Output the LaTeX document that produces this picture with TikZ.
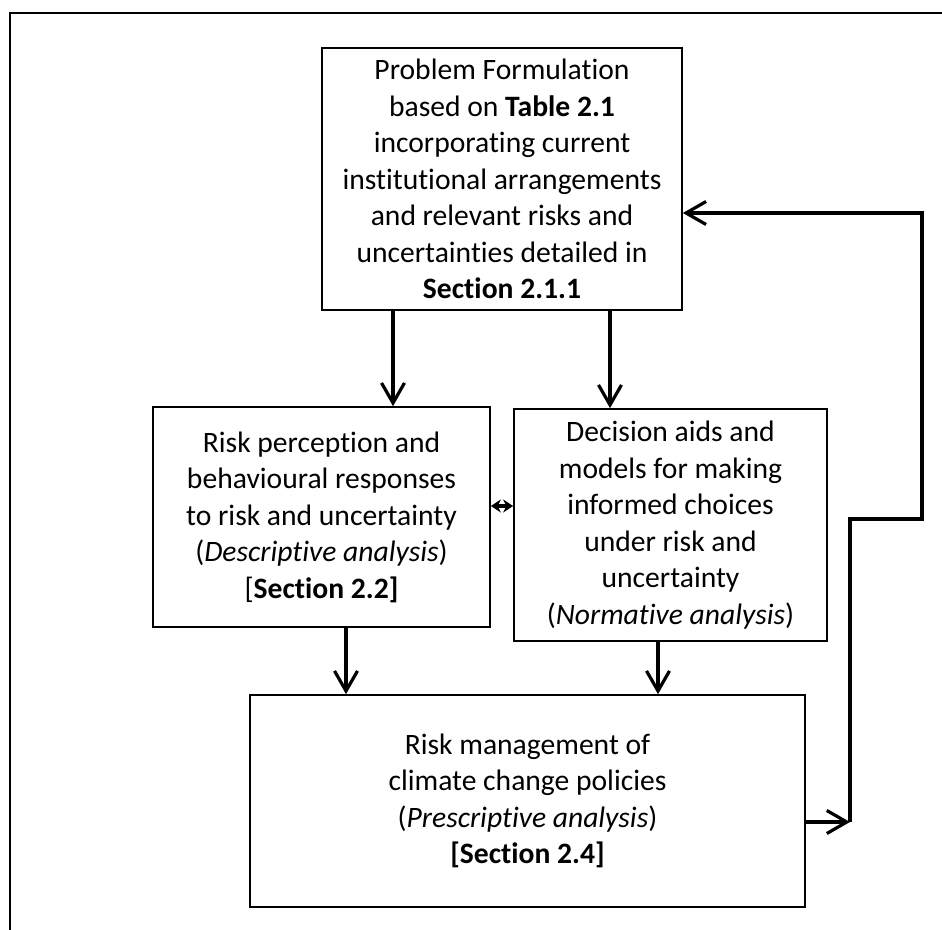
\documentclass[tikz,border=0pt]{standalone}
\usepackage{fontspec}
\setmainfont{Carlito}[Ligatures=NoCommon]
\usetikzlibrary{arrows.meta}

\begin{document}
\begin{tikzpicture}[x=0.5pt, y=-0.5pt, font=\fontsize{14.8pt}{18.25pt}\selectfont]
    % Define styles
    \tikzstyle{stage} = [rectangle, draw=black, line width=0.85pt, align=center, inner sep=0pt]
    \tikzstyle{arrow} = [line width=1.6pt, -{Straight Barb[length=10pt, width=11.5pt]}]
    \tikzstyle{link} = [line width=1.6pt, {Stealth[length=5pt, width=6.5pt]}-{Stealth[length=5pt, width=6.5pt]}]

    % Canvas and outer frame
    \useasboundingbox (0,0) rectangle (942,930);
    \draw [line width=1.3pt] (10,930) -- (10,13) -- (942,13);

    % Nodes
    \node [stage, minimum width=180pt, minimum height=131pt] (formulation) at (502,179)
        {Problem Formulation\\based on \textbf{Table 2.1}\\incorporating current\\institutional arrangements\\and relevant risks and\\uncertainties detailed in\\\textbf{Section 2.1.1}};
    \node [stage, minimum width=168.5pt, minimum height=110pt] (perception) at (321.5,517)
        {Risk perception and\\behavioural responses\\to risk and uncertainty\\(\textit{Descriptive analysis})\\{[}\textbf{Section 2.2]}};
    \node [stage, minimum width=156.5pt, minimum height=116pt] (normative) at (670.5,525)
        {Decision aids and\\models for making\\informed choices\\under risk and\\uncertainty\\(\textit{Normative analysis})};
    \node [stage, minimum width=277.5pt, minimum height=106pt] (management) at (527.5,801)
        {Risk management of\\climate change policies\\(\textit{Prescriptive analysis})\\\textbf{[Section 2.4]}};

    % Feedback corners
    \coordinate (loopin) at (850,822);
    \coordinate (loopjog) at (922,519);

    % Arrows
    \draw [arrow] ([xshift=-54.5pt]formulation.south) -- ([xshift=-54.5pt]formulation.south |- perception.north);
    \draw [arrow] ([xshift=54pt]formulation.south) -- ([xshift=54pt]formulation.south |- normative.north);
    \draw [link] ([yshift=5.5pt]perception.east) -- ([yshift=5.5pt]perception.east -| normative.west);
    \draw [arrow] ([xshift=12.25pt]perception.south) -- ([xshift=12.25pt]perception.south |- management.north);
    \draw [arrow] ([xshift=-6.25pt]normative.south) -- ([xshift=-6.25pt]normative.south |- management.north);
    \draw [arrow] ([yshift=-10.5pt]management.east) -- (loopin);
    \draw [arrow] (loopin) |- (loopjog) |- ([yshift=-17pt]formulation.east);
\end{tikzpicture}
\end{document}
